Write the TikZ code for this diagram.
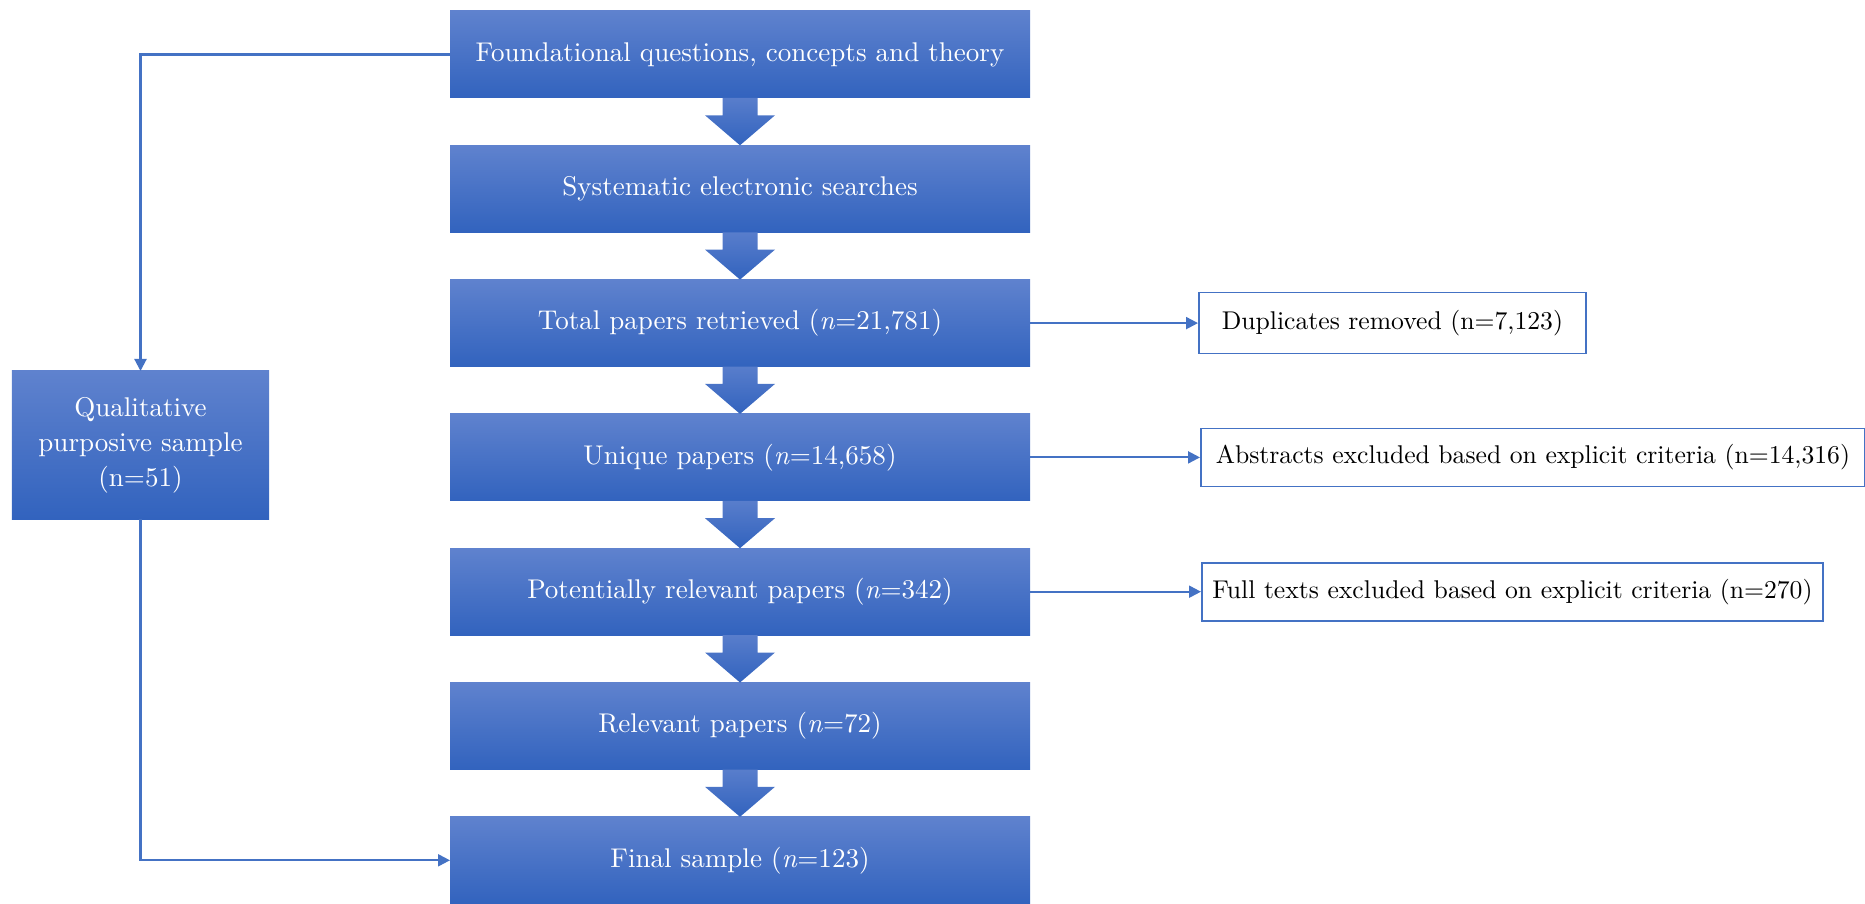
\documentclass[tikz,border=0pt]{standalone}
\usepackage{fontspec}
\setmainfont{lmroman10}[Extension=.otf, UprightFont=*-regular, ItalicFont=*-italic, BoldFont=*-bold]
\usepackage{tikz}
\usetikzlibrary{arrows.meta, positioning, calc}

\definecolor{flowtop}{RGB}{95,130,206}
\definecolor{flowbot}{RGB}{50,99,190}
\definecolor{linkblue}{RGB}{68,114,196}

\begin{document}
\begin{tikzpicture}[
	mainbox/.style={rectangle, minimum width=5.8cm, minimum height=0.87cm, inner sep=0pt, outer sep=0pt,
		top color=flowtop, bottom color=flowbot, text=white, font=\fontsize{7.7}{10}\selectfont},
	sidebox/.style={rectangle, draw=linkblue, line width=0.5pt, fill=white, minimum height=0.58cm,
		inner sep=0pt, font=\fontsize{7.3}{9}\selectfont},
	blockarrow/.style={top color=flowtop!85!flowbot, bottom color=flowbot},
	link/.style={linkblue, line width=0.6pt, -{Triangle[length=1.2mm, width=1.2mm]}}
	]
	\useasboundingbox (0,0) rectangle (18.65,9.03);
	
	% === MAIN FLOW ===
	\foreach \i/\txt in {1/{Foundational questions, concepts and theory},
		2/{Systematic electronic searches},
		3/{Total papers retrieved (\textit{n}=21,781)},
		4/{Unique papers (\textit{n}=14,658)},
		5/{Potentially relevant papers (\textit{n}=342)},
		6/{Relevant papers (\textit{n}=72)},
		7/{Final sample (\textit{n}=123)}} {
		\node[mainbox] (box\i) at (7.40, {8.485-1.343*(\i-1)}) {\txt};
	}
	
	% block arrows between the steps
	\foreach \i/\j in {1/2, 2/3, 3/4, 4/5, 5/6, 6/7} {
		\path[blockarrow] ($(box\i.south)+(-0.175,0)$) -- ($(box\i.south)+(0.175,0)$)
		-- ($(box\j.north)+(0.175,0.30)$) -- ($(box\j.north)+(0.35,0.30)$) -- (box\j.north)
		-- ($(box\j.north)+(-0.35,0.30)$) -- ($(box\j.north)+(-0.175,0.30)$) -- cycle;
	}
	
	% === QUALITATIVE SAMPLE ===
	\node[mainbox, minimum width=2.57cm, minimum height=1.48cm, align=center] (qual) at (1.405, 4.58)
	{Qualitative\\purposive sample\\(n=51)};
	
	\draw[link] (box1.west) -| (qual.north);
	\draw[link] (qual.south) |- (box7.west);
	
	% === EXCLUSIONS ===
	\node[sidebox, minimum width=3.87cm, minimum height=0.61cm, right=1.68cm of box3] (dup)
	{Duplicates removed (n=7,123)};
	\node[sidebox, minimum width=6.64cm, right=1.70cm of box4] (abstr)
	{Abstracts excluded based on explicit criteria (n=14,316)};
	\node[sidebox, minimum width=6.21cm, right=1.71cm of box5] (fulltxt)
	{Full texts excluded based on explicit criteria (n=270)};
	
	\draw[link] (box3.east) -- (dup.west);
	\draw[link] (box4.east) -- (abstr.west);
	\draw[link] (box5.east) -- (fulltxt.west);
	
\end{tikzpicture}
\end{document}
